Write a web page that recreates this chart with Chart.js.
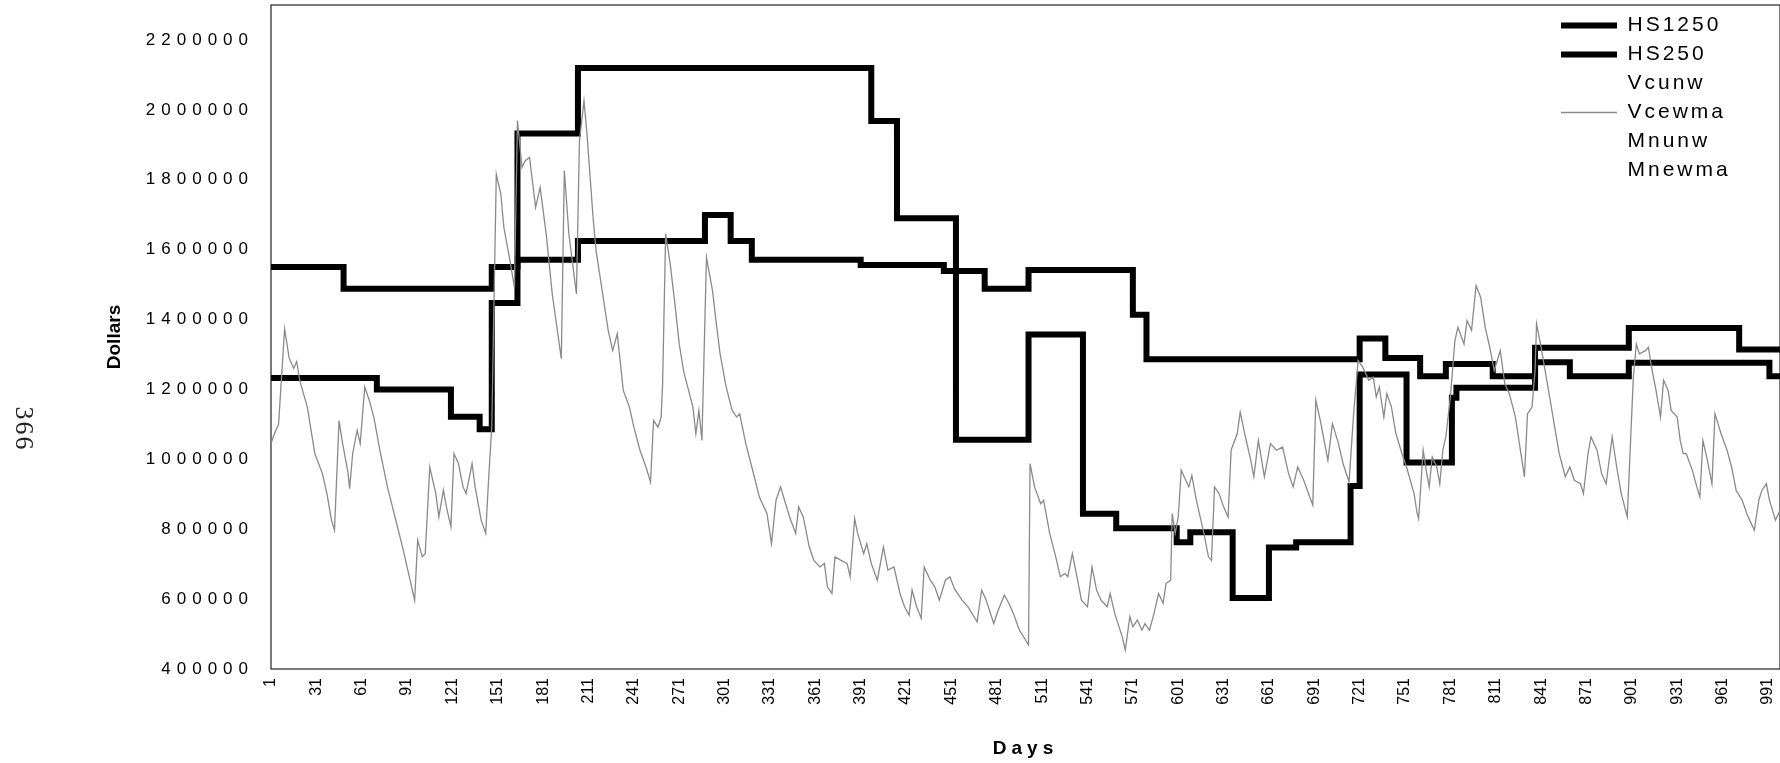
<!DOCTYPE html>
<html>
<head>
<meta charset="utf-8">
<script src="https://cdn.jsdelivr.net/npm/chart.js@4"></script>
<style>
  body { margin: 0; background: #fff; }
  #wrap { position: relative; width: 1780px; height: 763px; }
  #page {
    position: absolute; left: -6px; top: 414px; width: 60px; height: 30px;
    line-height: 30px; text-align: center; color: #222;
    font: 26px 'Liberation Serif', serif; letter-spacing: 2px;
    transform: rotate(90deg);
  }
</style>
</head>
<body>
<div id="wrap">
  <canvas id="chart"></canvas>
  <div id="page">366</div>
</div>
<script>
// series names, in legend order
const seriesNames = ['HS1250', 'HS250', 'Vcunw', 'Vcewma', 'Mnunw', 'Mnewma'];

const xTicks = [1, 31, 61, 91, 121, 151, 181, 211, 241, 271, 301, 331, 361, 391, 421, 451, 481,
  511, 541, 571, 601, 631, 661, 691, 721, 751, 781, 811, 841, 871, 901, 931, 961, 991];
const yTicks = [400000, 600000, 800000, 1000000, 1200000, 1400000, 1600000, 1800000, 2000000, 2200000];

// step series: day where a new level starts, and that level
const hs1250Days = [1, 49, 147, 164, 204, 288, 305, 319, 391, 446, 473, 502, 571, 580, 721, 738, 761, 778, 809, 837, 899, 972, 999];
const hs1250Vals = [1550000, 1488000, 1550000, 1571000, 1625000, 1699000, 1625000, 1571000, 1556000, 1539000, 1488000, 1542000,
  1414000, 1286000, 1346000, 1290000, 1238000, 1273000, 1238000, 1319000, 1376000, 1314000, 1314000];

const hs250Days = [1, 71, 120, 139, 147, 164, 204, 398, 415, 454, 502, 538, 560, 600, 609, 637, 661, 679, 715, 721, 752, 782, 785, 837, 860, 899, 992, 999];
const hs250Vals = [1233000, 1200000, 1122000, 1086000, 1447000, 1932000, 2120000, 1968000, 1690000, 1056000, 1357000, 844000,
  803000, 763000, 791000, 603000, 748000, 763000, 924000, 1243000, 991000, 1176000, 1205000, 1278000, 1238000, 1276000, 1238000, 1238000];

// Vcewma
const vcewmaDays = [1, 3, 6, 10, 13, 16, 18, 20, 25, 30, 35, 38, 41, 43, 46, 48, 52, 53, 55, 58, 60, 63, 66, 69, 73, 78, 83, 88, 92, 96,
  98, 101, 103, 106, 110, 112, 115, 117, 120, 122, 125, 128, 130, 134, 136, 140, 143, 145, 147, 150, 153, 155, 159, 162, 164, 167,
  169, 172, 176, 179, 183, 187, 193, 195, 198, 203, 205, 208, 210, 214, 216, 220, 224, 227, 230, 234, 238, 241, 245, 249, 252, 254,
  257, 259, 260, 262, 265, 268, 271, 274, 277, 280, 282, 284, 286, 289, 293, 295, 298, 302, 306, 309, 311, 315, 319, 324, 329, 332,
  335, 338, 340, 344, 348, 350, 353, 357, 360, 364, 367, 369, 372, 374, 378, 382, 384, 387, 389, 393, 395, 398, 402, 406, 409, 413,
  417, 420, 423, 425, 428, 431, 433, 437, 440, 443, 447, 450, 453, 458, 462, 468, 471, 474, 479, 482, 486, 489, 492, 496, 500, 502,
  503, 506, 510, 512, 516, 520, 523, 526, 528, 531, 534, 537, 541, 544, 547, 550, 554, 556, 559, 564, 566, 569, 571, 574, 577, 579,
  582, 585, 588, 591, 593, 596, 597, 599, 601, 603, 606, 608, 610, 613, 618, 621, 623, 625, 628, 631, 634, 636, 640, 642, 645, 649,
  651, 654, 658, 662, 666, 670, 674, 677, 680, 684, 688, 690, 692, 695, 700, 703, 707, 710, 714, 717, 720, 723, 727, 730, 732, 734,
  737, 739, 742, 745, 749, 752, 757, 759, 760, 763, 765, 767, 769, 772, 774, 776, 778, 781, 784, 786, 790, 792, 795, 798, 801, 804,
  807, 810, 814, 817, 820, 824, 827, 830, 832, 835, 837, 838, 841, 844, 847, 850, 853, 857, 860, 863, 867, 869, 872, 874, 878, 881,
  884, 888, 891, 894, 898, 900, 902, 904, 906, 910, 912, 914, 917, 920, 922, 925, 927, 931, 933, 935, 937, 941, 944, 946, 948, 951,
  954, 956, 958, 960, 964, 967, 970, 974, 977, 980, 982, 985, 987, 990, 992, 996, 999];
const vcewmaVals = [1045000, 1070000, 1100000, 1373000, 1290000, 1260000, 1280000, 1226000, 1150000, 1016000, 959000, 902000, 826000,
  797000, 1111000, 1054000, 959000, 916000, 1016000, 1083000, 1045000, 1207000, 1169000, 1121000, 1026000, 921000, 835000, 749000,
  673000, 597000, 769000, 721000, 730000, 978000, 902000, 835000, 912000, 864000, 807000, 1016000, 988000, 921000, 902000, 988000,
  921000, 826000, 788000, 950000, 1092000, 1816000, 1759000, 1664000, 1569000, 1492000, 1969000, 1835000, 1854000, 1864000, 1721000,
  1778000, 1645000, 1473000, 1288000, 1826000, 1645000, 1473000, 1911000, 2026000, 1930000, 1692000, 1597000, 1483000, 1369000,
  1311000, 1359000, 1197000, 1150000, 1092000, 1026000, 978000, 935000, 1111000, 1092000, 1121000, 1216000, 1645000, 1560000,
  1450000, 1330000, 1250000, 1200000, 1150000, 1073000, 1140000, 1054000, 1578000, 1483000, 1407000, 1302000, 1207000, 1140000,
  1121000, 1130000, 1045000, 978000, 892000, 845000, 759000, 883000, 921000, 892000, 835000, 788000, 864000, 835000, 749000, 711000,
  692000, 702000, 635000, 616000, 721000, 711000, 702000, 664000, 830000, 788000, 730000, 759000, 702000, 654000, 749000, 683000,
  692000, 616000, 578000, 554000, 626000, 578000, 545000, 692000, 654000, 635000, 597000, 654000, 664000, 630000, 597000, 578000,
  535000, 626000, 597000, 530000, 569000, 611000, 588000, 559000, 511000, 483000, 469000, 988000, 921000, 873000, 883000, 788000,
  721000, 664000, 673000, 664000, 730000, 664000, 597000, 578000, 692000, 626000, 597000, 578000, 616000, 559000, 492000, 454000,
  550000, 521000, 540000, 511000, 530000, 511000, 559000, 616000, 588000, 645000, 654000, 845000, 788000, 835000, 969000, 940000,
  921000, 954000, 883000, 788000, 721000, 711000, 921000, 902000, 864000, 835000, 1026000, 1073000, 1135000, 1073000, 997000, 950000,
  1054000, 950000, 1045000, 1026000, 1035000, 959000, 921000, 978000, 940000, 892000, 869000, 1169000, 1111000, 997000, 1102000,
  1045000, 988000, 935000, 1130000, 1283000, 1264000, 1226000, 1235000, 1178000, 1207000, 1121000, 1188000, 1150000, 1073000,
  1016000, 978000, 902000, 845000, 830000, 1026000, 969000, 921000, 1007000, 978000, 930000, 1026000, 1064000, 1178000, 1340000,
  1378000, 1330000, 1397000, 1369000, 1497000, 1464000, 1378000, 1321000, 1254000, 1311000, 1216000, 1188000, 1121000, 1035000,
  950000, 1130000, 1150000, 1254000, 1388000, 1321000, 1245000, 1169000, 1092000, 1016000, 950000, 978000, 940000, 930000, 902000,
  1016000, 1064000, 1026000, 959000, 930000, 1064000, 978000, 902000, 835000, 1035000, 1235000, 1330000, 1302000, 1311000, 1321000,
  1264000, 1197000, 1121000, 1226000, 1197000, 1140000, 1121000, 1054000, 1016000, 1016000, 969000, 921000, 892000, 1054000, 997000,
  930000, 1130000, 1102000, 1073000, 1026000, 978000, 911000, 883000, 845000, 816000, 797000, 883000, 911000, 930000, 883000, 826000,
  854000];

function points(days, vals) {
  return days.map((d, i) => ({ x: d, y: vals[i] }));
}

// wrap a draw method so its text gets the wide letter spacing of the original
function spaced(obj, name, px) {
  if (!obj || obj['_sp_' + name]) return;
  const fn = obj[name];
  obj[name] = function (...args) {
    const ctx = this.ctx;
    const old = ctx.letterSpacing;
    ctx.letterSpacing = px;
    fn.apply(this, args);
    ctx.letterSpacing = old;
  };
  obj['_sp_' + name] = true;
}

const framePlugin = {
  id: 'frame',
  afterLayout(chart) {
    const lg = chart.legend;
    lg.left = 1553; lg.top = 7; lg.right = 1780; lg.bottom = 300;
    spaced(lg, 'draw', '3px');
    spaced(chart.scales.y, 'drawLabels', '6px');
    spaced(chart.scales.x, 'drawTitle', '5px');
  },
  beforeDatasetsDraw(chart) {
    const { ctx, chartArea: a } = chart;
    ctx.save();
    ctx.strokeStyle = '#222';
    ctx.lineWidth = 1.2;
    ctx.strokeRect(a.left, a.top, a.right - a.left, a.bottom - a.top);
    ctx.restore();
  }
};

const stepStyle = { borderColor: '#000', borderWidth: 6, stepped: true, borderJoinStyle: 'miter', borderCapStyle: 'butt' };

new Chart(document.getElementById('chart'), {
  type: 'line',
  data: {
    datasets: [
      { label: seriesNames[0], data: points(hs1250Days, hs1250Vals), ...stepStyle, order: 6 },
      { label: seriesNames[1], data: points(hs250Days, hs250Vals), ...stepStyle, order: 5 },
      { label: seriesNames[2], data: [], borderColor: '#fff', borderWidth: 1, order: 4 },
      { label: seriesNames[3], data: points(vcewmaDays, vcewmaVals), borderColor: '#8a8a8a', borderWidth: 1.3, order: 3 },
      { label: seriesNames[4], data: [], borderColor: '#fff', borderWidth: 1, order: 2 },
      { label: seriesNames[5], data: [], borderColor: '#fff', borderWidth: 1, order: 1 }
    ]
  },
  options: {
    responsive: true,
    maintainAspectRatio: false,
    animation: false,
    events: [],
    elements: { point: { radius: 0 }, line: { tension: 0, fill: false } },
    layout: { padding: { top: 5, right: 0, bottom: 0, left: 0 } },
    plugins: {
      tooltip: { enabled: false },
      legend: {
        position: 'chartArea',
        align: 'start',
        labels: {
          font: { family: 'Liberation Sans', size: 21 },
          color: '#000',
          usePointStyle: true,
          pointStyle: 'line',
          pointStyleWidth: 56,
          padding: 8,
          sort: (a, b) => a.datasetIndex - b.datasetIndex
        }
      }
    },
    scales: {
      x: {
        type: 'linear',
        min: 1,
        max: 999,
        afterBuildTicks: (s) => { s.ticks = xTicks.map(v => ({ value: v })); },
        afterFit: (s) => { s.height = 94; s.paddingLeft = 0; s.paddingRight = 0; },
        grid: { display: false, drawTicks: false },
        border: { display: false },
        ticks: {
          autoSkip: false, minRotation: 90, maxRotation: 90, padding: 9,
          color: '#000', font: { family: 'Liberation Sans', size: 16 },
          callback: (v) => String(v)
        },
        title: {
          display: true, text: 'Days', color: '#000',
          font: { family: 'Liberation Sans', size: 19, weight: 'bold' },
          padding: { top: 0, bottom: 3 }
        }
      },
      y: {
        min: 400000,
        max: 2300000,
        afterBuildTicks: (s) => { s.ticks = yTicks.map(v => ({ value: v })); },
        afterFit: (s) => { s.width = 271; s.paddingTop = 0; s.paddingBottom = 0; },
        grid: { display: false, drawTicks: false },
        border: { display: false },
        ticks: {
          padding: 17, color: '#000', font: { family: 'Liberation Sans', size: 17 },
          callback: (v) => String(v)
        },
        title: {
          display: true, text: 'Dollars', color: '#000',
          font: { family: 'Liberation Sans', size: 19, weight: 'bold' },
          padding: { top: 103, bottom: 0 }
        }
      }
    }
  },
  plugins: [framePlugin]
});
</script>
</body>
</html>
